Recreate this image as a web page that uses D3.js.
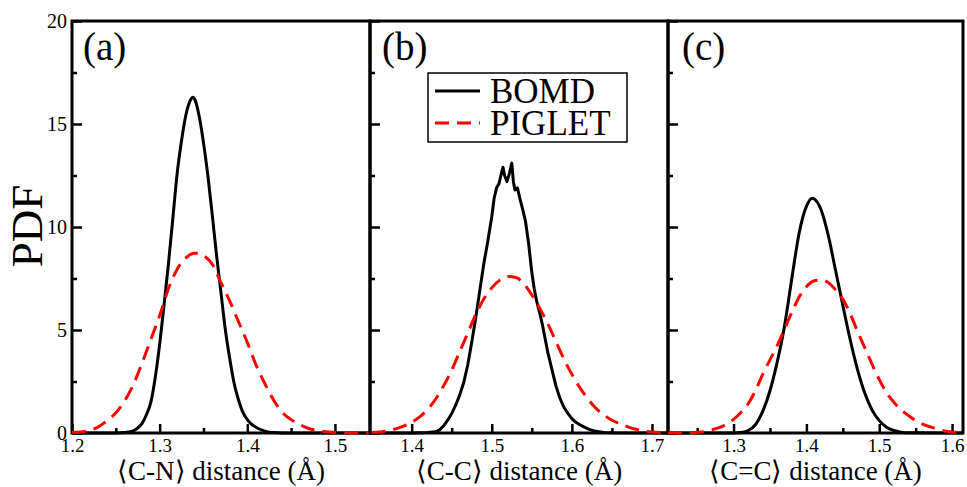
<!DOCTYPE html>
<html>
<head>
<meta charset="utf-8">
<script src="https://cdn.jsdelivr.net/npm/d3@7"></script>
<style>
  body { margin: 0; background: #fff; }
  svg { display: block; }
  text { font-family: "Liberation Serif", "Times New Roman", serif; fill: #000; }
</style>
</head>
<body>
<svg width="967" height="487"></svg>
<script>
// PDF values, [distance, pdf]
const cnBomd = [[1.20,0],[1.25,0],[1.26,0.02],[1.265,0.05],[1.27,0.1],[1.275,0.25],[1.28,0.47],[1.285,0.9],[1.29,1.5],[1.295,2.7],[1.30,4.3],[1.305,6.2],[1.31,8.2],[1.315,10.4],[1.32,12.6],[1.325,14.2],[1.33,15.45],[1.335,16.15],[1.338,16.3],[1.34,16.2],[1.345,15.4],[1.35,14.1],[1.355,12.5],[1.36,10.6],[1.365,8.6],[1.37,6.8],[1.375,5.0],[1.38,3.6],[1.385,2.4],[1.39,1.6],[1.395,1.0],[1.40,0.65],[1.405,0.42],[1.41,0.28],[1.415,0.17],[1.42,0.09],[1.425,0.04],[1.43,0.02],[1.44,0],[1.54,0]];
const cnPiglet = [[1.20,0.02],[1.21,0.05],[1.22,0.12],[1.23,0.3],[1.24,0.6],[1.25,0.98],[1.26,1.55],[1.27,2.35],[1.28,3.4],[1.29,4.55],[1.30,5.7],[1.31,7.0],[1.32,7.95],[1.33,8.5],[1.34,8.72],[1.345,8.72],[1.35,8.62],[1.36,8.2],[1.37,7.3],[1.38,6.4],[1.39,5.4],[1.40,4.4],[1.41,3.3],[1.42,2.4],[1.43,1.6],[1.44,1.0],[1.45,0.65],[1.46,0.4],[1.47,0.22],[1.48,0.12],[1.49,0.06],[1.50,0.03],[1.52,0.01],[1.54,0]];

const ccBomd = [[1.35,0],[1.40,0],[1.42,0.02],[1.43,0.06],[1.435,0.15],[1.44,0.35],[1.445,0.62],[1.45,0.95],[1.455,1.35],[1.46,1.85],[1.465,2.45],[1.47,3.3],[1.475,4.4],[1.48,5.6],[1.485,6.9],[1.49,8.2],[1.495,9.3],[1.50,10.5],[1.503,11.4],[1.506,11.9],[1.509,12.1],[1.512,12.6],[1.514,12.9],[1.516,12.5],[1.519,12.2],[1.522,12.6],[1.525,13.1],[1.527,12.2],[1.529,11.8],[1.532,11.9],[1.535,11.4],[1.539,10.8],[1.542,10.3],[1.546,9.2],[1.55,7.8],[1.553,7.0],[1.556,6.4],[1.56,5.8],[1.563,5.3],[1.567,4.5],[1.57,3.9],[1.575,3.1],[1.58,2.3],[1.585,1.7],[1.59,1.25],[1.595,0.95],[1.60,0.7],[1.605,0.52],[1.61,0.4],[1.615,0.3],[1.62,0.2],[1.625,0.13],[1.63,0.08],[1.64,0.03],[1.65,0.01],[1.72,0]];
const ccPiglet = [[1.35,0.02],[1.36,0.05],[1.37,0.1],[1.38,0.2],[1.39,0.33],[1.40,0.52],[1.41,0.78],[1.42,1.15],[1.43,1.65],[1.44,2.3],[1.45,3.05],[1.46,3.95],[1.47,4.85],[1.48,5.75],[1.49,6.5],[1.50,7.05],[1.51,7.42],[1.52,7.6],[1.53,7.55],[1.54,7.25],[1.55,6.7],[1.56,6.05],[1.57,5.3],[1.58,4.45],[1.59,3.6],[1.60,2.85],[1.61,2.2],[1.62,1.65],[1.63,1.2],[1.64,0.88],[1.65,0.62],[1.66,0.45],[1.67,0.3],[1.68,0.18],[1.69,0.1],[1.70,0.05],[1.72,0.02]];

const cdcBomd = [[1.21,0],[1.30,0],[1.31,0.02],[1.32,0.12],[1.33,0.4],[1.34,1.05],[1.35,2.05],[1.36,3.45],[1.37,5.2],[1.38,7.5],[1.39,9.7],[1.40,11.0],[1.408,11.4],[1.415,11.2],[1.42,10.85],[1.43,9.6],[1.44,7.9],[1.45,6.2],[1.46,4.55],[1.47,3.1],[1.48,1.95],[1.49,1.12],[1.50,0.6],[1.51,0.28],[1.52,0.12],[1.53,0.04],[1.54,0.01],[1.615,0]];
const cdcPiglet = [[1.21,0],[1.24,0.01],[1.25,0.03],[1.26,0.07],[1.27,0.15],[1.28,0.26],[1.29,0.42],[1.30,0.66],[1.31,1.0],[1.32,1.42],[1.33,2.05],[1.34,2.85],[1.35,3.55],[1.36,4.25],[1.37,5.05],[1.38,5.85],[1.39,6.6],[1.40,7.1],[1.41,7.38],[1.42,7.43],[1.43,7.3],[1.44,6.95],[1.45,6.5],[1.46,5.8],[1.47,4.95],[1.48,4.15],[1.49,3.35],[1.50,2.6],[1.51,1.95],[1.52,1.5],[1.53,1.12],[1.54,0.85],[1.55,0.6],[1.56,0.42],[1.57,0.3],[1.58,0.19],[1.59,0.1],[1.60,0.05],[1.615,0.02]];

const yMajor = [0, 5, 10, 15, 20];
const yMinor = [2.5, 7.5, 12.5, 17.5];
const legendNames = ["BOMD", "PIGLET"];

const panels = [
  { id: "a", label: "(a)", title: "\u27E8C-N\u27E9 distance (\u00C5)", domain: [1.2, 1.54],
    major: [1.2, 1.3, 1.4, 1.5], minor: [1.25, 1.35, 1.45], bomd: cnBomd, piglet: cnPiglet,
    left: 72, right: 370, labelDx: 11, smooth: true },
  { id: "b", label: "(b)", title: "\u27E8C-C\u27E9 distance (\u00C5)", domain: [1.348, 1.72],
    major: [1.4, 1.5, 1.6, 1.7], minor: [1.45, 1.55, 1.65], bomd: ccBomd, piglet: ccPiglet,
    left: 370, right: 668, labelDx: 12, smooth: false },
  { id: "c", label: "(c)", title: "\u27E8C=C\u27E9 distance (\u00C5)", domain: [1.21, 1.615],
    major: [1.3, 1.4, 1.5, 1.6], minor: [1.25, 1.35, 1.45, 1.55], bomd: cdcBomd, piglet: cdcPiglet,
    left: 668, right: 963, labelDx: 14, smooth: true },
];

const plotTop = 21, plotBottom = 433;
const serif = '"Liberation Serif", "Times New Roman", serif';
const svg = d3.select("svg");

const y = d3.scaleLinear().domain([0, 20]).range([plotBottom, plotTop]);

panels.forEach((p, i) => {
  const x = d3.scaleLinear().domain(p.domain).range([p.left, p.right]);
  const g = svg.append("g").attr("class", "panel-" + p.id);

  // y ticks (inward), labels only on first panel
  const yAx = g.append("g")
    .attr("transform", `translate(${p.left},0)`)
    .call(d3.axisLeft(y).tickValues(yMajor).tickSize(-10).tickPadding(5)
      .tickFormat(i === 0 ? d3.format("d") : () => ""));
  g.append("g")
    .attr("transform", `translate(${p.left},0)`)
    .call(d3.axisLeft(y).tickValues(yMinor).tickSize(-5).tickFormat(() => ""));

  // x ticks (inward)
  const xAx = g.append("g")
    .attr("transform", `translate(0,${plotBottom})`)
    .call(d3.axisBottom(x).tickValues(p.major).tickSize(-9).tickPadding(6)
      .tickFormat(d3.format(".1f")));
  g.append("g")
    .attr("transform", `translate(0,${plotBottom})`)
    .call(d3.axisBottom(x).tickValues(p.minor).tickSize(-5).tickFormat(() => ""));

  g.selectAll("g").attr("font-family", serif);
  g.selectAll(".domain").remove();
  g.selectAll(".tick line").attr("stroke", "#000").attr("stroke-width", 2.5);
  g.selectAll(".tick text").attr("fill", "#000").style("font-family", serif);
  yAx.selectAll(".tick text").attr("font-size", 20).attr("dy", "0.3em");
  xAx.selectAll(".tick text").attr("font-size", 19);

  // frame
  g.append("rect")
    .attr("x", p.left).attr("y", plotTop)
    .attr("width", p.right - p.left).attr("height", plotBottom - plotTop)
    .attr("fill", "none").attr("stroke", "#000").attr("stroke-width", 3);

  // curves
  g.append("clipPath").attr("id", "clip-" + p.id)
    .append("rect")
    .attr("x", p.left).attr("y", plotTop)
    .attr("width", p.right - p.left).attr("height", plotBottom - plotTop + 2);

  const line = d3.line().x(d => x(d[0])).y(d => y(d[1]))
    .curve(p.smooth ? d3.curveMonotoneX : d3.curveLinear);

  g.append("path")
    .datum(p.bomd)
    .attr("clip-path", `url(#clip-${p.id})`)
    .attr("d", line)
    .attr("fill", "none").attr("stroke", "#000").attr("stroke-width", 3)
    .attr("stroke-linejoin", "round");

  g.append("path")
    .datum(p.piglet)
    .attr("clip-path", `url(#clip-${p.id})`)
    .attr("d", line.curve(d3.curveMonotoneX))
    .attr("fill", "none").attr("stroke", "#ff0000").attr("stroke-width", 3)
    .attr("stroke-dasharray", "14,8");

  // panel label
  g.append("text")
    .attr("x", p.left + p.labelDx).attr("y", 60)
    .attr("font-size", 39)
    .text(p.label);

  // x title
  g.append("text")
    .attr("x", (p.left + p.right) / 2).attr("y", 480)
    .attr("text-anchor", "middle")
    .attr("font-size", 27)
    .text(p.title);
});

// y title
svg.append("text")
  .attr("transform", "translate(42,226) rotate(-90)")
  .attr("text-anchor", "middle")
  .attr("font-size", 45)
  .text("PDF");

// legend in panel (b)
const legend = svg.append("g").attr("class", "legend");
legend.append("rect")
  .attr("x", 428).attr("y", 73).attr("width", 199).attr("height", 69)
  .attr("fill", "#fff").attr("stroke", "#000").attr("stroke-width", 1.5);
const legendStyles = [
  { color: "#000", dash: null },
  { color: "#ff0000", dash: "14,8" },
];
legendNames.forEach((name, i) => {
  const yy = 91 + i * 32;
  legend.append("line")
    .attr("x1", 435).attr("x2", 480).attr("y1", yy).attr("y2", yy)
    .attr("stroke", legendStyles[i].color).attr("stroke-width", 3)
    .attr("stroke-dasharray", legendStyles[i].dash);
  legend.append("text")
    .attr("x", 490).attr("y", yy + 12)
    .attr("font-size", 35)
    .text(name);
});
</script>
</body>
</html>
